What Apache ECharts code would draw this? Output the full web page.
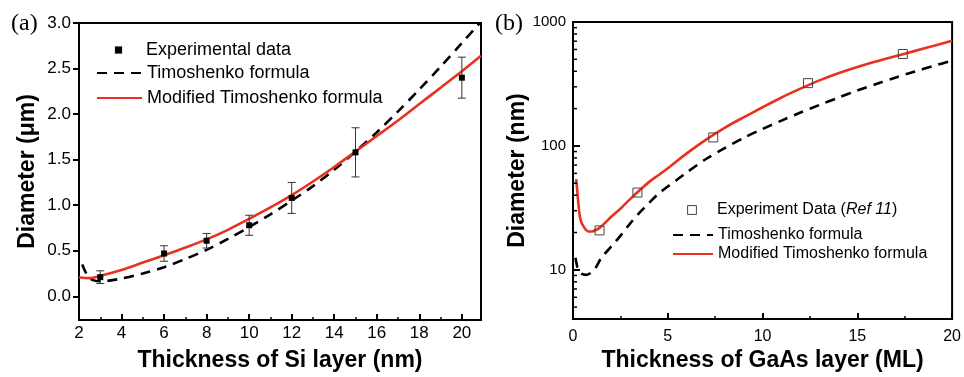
<!DOCTYPE html>
<html><head><meta charset="utf-8">
<script src="https://cdn.jsdelivr.net/npm/echarts@6/dist/echarts.min.js"></script>
<style>html,body{margin:0;padding:0;background:#fff}#c{width:964px;height:377px}</style>
</head><body><div id="c"></div>
<script>
const FONT = '"Liberation Sans", Arial, Helvetica, sans-serif';
const SERIF = '"Liberation Serif", "Times New Roman", serif';
const RED = '#e8321f';

// ---------- Panel (a): Si layer ----------
const expXA   = [3, 6, 8, 10, 12, 15, 20];
const expYA   = [0.21, 0.47, 0.61, 0.78, 1.08, 1.58, 2.40];
const expErrA = [0.07, 0.085, 0.08, 0.11, 0.17, 0.27, 0.225];

const timXA = [2.15, 2.3, 2.45, 2.7, 3, 3.5, 4, 5, 6, 7, 8, 9, 10, 11, 12, 13, 14, 15, 16, 17, 18, 19, 20, 20.85];
const timYA = [0.35, 0.27, 0.21, 0.175, 0.165, 0.175, 0.195, 0.25, 0.32, 0.41, 0.51, 0.63, 0.76, 0.90, 1.05, 1.21, 1.39, 1.59, 1.80, 2.03, 2.27, 2.52, 2.78, 3.00];

const modXA = [2, 2.5, 3, 4, 5, 6, 7, 8, 9, 10, 11, 12, 13, 14, 15, 16, 17, 18, 19, 20, 20.9];
const modYA = [0.21, 0.20, 0.225, 0.29, 0.37, 0.45, 0.535, 0.625, 0.73, 0.85, 0.975, 1.11, 1.26, 1.42, 1.59, 1.76, 1.93, 2.11, 2.29, 2.47, 2.64];

const xTicksA      = [2, 4, 6, 8, 10, 12, 14, 16, 18, 20];
const xMinorTicksA = [3, 5, 7, 9, 11, 13, 15, 17, 19];
const yTicksA      = [0, 0.5, 1.0, 1.5, 2.0, 2.5, 3.0];

// ---------- Panel (b): GaAs layer ----------
const expXB = [1.4, 3.4, 7.4, 12.4, 17.4];
const expYB = [20.8, 42, 117, 321, 552];

const timXB = [0.13, 0.2, 0.28, 0.45, 0.7, 1.0, 1.2, 1.5, 2, 2.5, 3, 3.5, 4, 4.5, 5, 5.5, 6, 7, 8, 9, 10, 11, 12, 13, 14, 15, 16, 17, 18, 19, 20];
const timYB = [12.5, 11, 10, 9.3, 9.1, 9.6, 10.4, 12.5, 15.3, 18.8, 23.5, 28.8, 34.5, 41, 47, 53.5, 61, 78, 96, 116, 137, 160, 186, 214, 245, 280, 316, 355, 397, 441, 488];

const modXB = [0.17, 0.2, 0.27, 0.36, 0.45, 0.54, 0.65, 0.8, 1.0, 1.2, 1.4, 1.7, 2, 2.5, 3, 3.5, 4, 4.5, 5, 6, 7, 8, 9, 10, 11, 12, 13, 14, 15, 16, 17, 18, 19, 20];
const modYB = [54, 48, 36, 27, 24, 22.6, 21.3, 20.4, 20.4, 20.9, 21.8, 24, 26.7, 31.1, 37, 43.6, 51, 58, 66, 87, 112, 140, 170, 205, 246, 290, 338, 386, 434, 481, 530, 582, 640, 705];

const xMinorTicksB = [2.5, 7.5, 12.5, 17.5];
const yMajorTicksB = [10, 100, 1000];
const yMinorTicksB = [5, 6, 7, 8, 9, 20, 30, 40, 50, 60, 70, 80, 90, 200, 300, 400, 500, 600, 700, 800, 900];

const NAME_EXP_A = 'Experimental data';
const NAME_EXP_B = 'Experiment Data (Ref 11)';
const NAME_TIM = 'Timoshenko formula';
const NAME_MOD = 'Modified Timoshenko formula';

const pairs = (xs, ys) => xs.map((x, i) => [x, ys[i]]);

function errRender(params, api) {
  const x = api.value(0), lo = api.value(1), hi = api.value(2);
  const p1 = api.coord([x, lo]), p2 = api.coord([x, hi]);
  const cap = 4, st = {stroke: '#333', lineWidth: 1};
  return {type: 'group', children: [
    {type: 'line', shape: {x1: p1[0], y1: p1[1], x2: p2[0], y2: p2[1]}, style: st},
    {type: 'line', shape: {x1: p1[0] - cap, y1: p1[1], x2: p1[0] + cap, y2: p1[1]}, style: st},
    {type: 'line', shape: {x1: p2[0] - cap, y1: p2[1], x2: p2[0] + cap, y2: p2[1]}, style: st}
  ]};
}
function minorTickRender(params, api) {
  const p = api.coord([api.value(0), api.value(1)]);
  return {type: 'line', shape: {x1: p[0], y1: p[1], x2: p[0] + 4, y2: p[1]}, style: {stroke: '#000', lineWidth: 1.5}};
}

const axisLineStyle = {show: true, onZero: false, lineStyle: {color: '#000', width: 2}};
const labelBase = {color: '#000', fontFamily: FONT};
const nameStyle = {color: '#000', fontFamily: FONT, fontSize: 23, fontWeight: 'bold'};
const hiddenSymbol = {opacity: 0, borderWidth: 0};

const option = {
  animation: false,
  backgroundColor: '#fff',
  title: [
    {text: '(a)', left: 11, top: 12, padding: 0, textStyle: {fontFamily: SERIF, fontSize: 24, fontWeight: 'normal', color: '#000'}},
    {text: '(b)', left: 495, top: 12, padding: 0, textStyle: {fontFamily: SERIF, fontSize: 24, fontWeight: 'normal', color: '#000'}}
  ],
  grid: [
    {left: 79, top: 23, width: 402, height: 300, show: true, borderColor: '#000', borderWidth: 2},
    {left: 573, top: 22, width: 385, height: 305, show: true, borderColor: '#000', borderWidth: 2}
  ],
  legend: [
    {left: 96, top: 41, orient: 'vertical', padding: 0, itemWidth: 45, itemHeight: 9,
     selectedMode: false, data: [NAME_EXP_A],
     textStyle: {fontFamily: FONT, fontSize: 18, color: '#000'}},
    {left: 96, top: 64, orient: 'vertical', padding: 0, itemWidth: 45, itemHeight: 9, itemGap: 7,
     selectedMode: false, data: [NAME_TIM, NAME_MOD], itemStyle: hiddenSymbol,
     textStyle: {fontFamily: FONT, fontSize: 18, color: '#000'}},
    {left: 672, top: 202, orient: 'vertical', padding: 0, itemWidth: 40, itemHeight: 11,
     selectedMode: false, data: [NAME_EXP_B], itemStyle: {borderWidth: 1},
     formatter: () => '{n|Experiment Data (}{i|Ref 11}{n|)}',
     textStyle: {fontFamily: FONT, fontSize: 16, color: '#000',
       rich: {n: {fontFamily: FONT, fontSize: 16, color: '#000'}, i: {fontFamily: FONT, fontSize: 16, color: '#000', fontStyle: 'italic'}}}},
    {left: 672, top: 227, orient: 'vertical', padding: 0, itemWidth: 40, itemHeight: 9, itemGap: 3,
     selectedMode: false, data: [NAME_TIM, NAME_MOD], itemStyle: hiddenSymbol,
     textStyle: {fontFamily: FONT, fontSize: 16, color: '#000'}}
  ],
  xAxis: [
    {gridIndex: 0, type: 'value', position: 'bottom', min: 2, max: 20.9, interval: 2,
     axisLine: axisLineStyle,
     axisTick: {show: true, inside: true, length: 6, customValues: xTicksA, lineStyle: {color: '#000', width: 2}},
     axisLabel: Object.assign({fontSize: 17, margin: 5, customValues: xTicksA}, labelBase),
     splitLine: {show: false},
     name: 'Thickness of Si layer (nm)', nameLocation: 'middle', nameGap: 29, nameTextStyle: nameStyle},
    {gridIndex: 0, type: 'value', position: 'bottom', min: 2, max: 20.9, interval: 2,
     axisLine: {show: false, onZero: false}, axisLabel: {show: false}, splitLine: {show: false},
     axisTick: {show: true, inside: true, length: 3, customValues: xMinorTicksA, lineStyle: {color: '#000', width: 1.5}}},
    {gridIndex: 1, type: 'value', position: 'bottom', min: 0, max: 20, interval: 5,
     axisLine: axisLineStyle,
     axisTick: {show: true, inside: true, length: 6, lineStyle: {color: '#000', width: 2}},
     axisLabel: Object.assign({fontSize: 16, margin: 9}, labelBase),
     splitLine: {show: false},
     name: 'Thickness of GaAs layer (ML)', nameLocation: 'middle', nameGap: 25, nameTextStyle: nameStyle},
    {gridIndex: 1, type: 'value', position: 'bottom', min: 0, max: 20, interval: 5,
     axisLine: {show: false, onZero: false}, axisLabel: {show: false}, splitLine: {show: false},
     axisTick: {show: true, inside: true, length: 3, customValues: xMinorTicksB, lineStyle: {color: '#000', width: 1.5}}}
  ],
  yAxis: [
    {gridIndex: 0, type: 'value', position: 'left', min: -0.26, max: 3.0,
     axisLine: axisLineStyle,
     axisTick: {show: true, inside: false, length: 6, customValues: yTicksA, lineStyle: {color: '#000', width: 2}},
     axisLabel: Object.assign({fontSize: 17, margin: 8, customValues: yTicksA, formatter: v => Number(v).toFixed(1)}, labelBase),
     splitLine: {show: false},
     name: 'Diameter (μm)', nameLocation: 'middle', nameGap: 40, nameTextStyle: nameStyle},
    {gridIndex: 1, type: 'log', position: 'left', logBase: 10, min: 4, max: 1000,
     axisLine: axisLineStyle,
     axisTick: {show: true, inside: true, length: 7, lineStyle: {color: '#000', width: 2}},
     axisLabel: Object.assign({fontSize: 15, margin: 7,
       formatter: v => (yMajorTicksB.indexOf(Math.round(v)) >= 0 ? String(Math.round(v)) : '')}, labelBase),
     splitLine: {show: false},
     name: 'Diameter (nm)', nameLocation: 'middle', nameGap: 42, nameTextStyle: nameStyle}
  ],
  series: [
    {name: NAME_TIM, type: 'line', xAxisIndex: 0, yAxisIndex: 0, data: pairs(timXA, timYA),
     smooth: 0.3, symbol: 'none', lineStyle: {color: '#000', width: 2.6, type: [10, 7]}, itemStyle: {color: '#000'}, z: 3},
    {name: NAME_MOD, type: 'line', xAxisIndex: 0, yAxisIndex: 0, data: pairs(modXA, modYA),
     smooth: 0.3, symbol: 'none', lineStyle: {color: RED, width: 2.6}, itemStyle: {color: RED}, z: 4},
    {type: 'custom', xAxisIndex: 0, yAxisIndex: 0, renderItem: errRender, silent: true, z: 5,
     encode: {x: 0, y: [1, 2]},
     data: expXA.map((x, i) => [x, expYA[i] - expErrA[i], expYA[i] + expErrA[i]])},
    {name: NAME_EXP_A, type: 'line', xAxisIndex: 0, yAxisIndex: 0, data: pairs(expXA, expYA),
     symbol: 'rect', symbolSize: 6, showSymbol: true, lineStyle: {width: 0}, itemStyle: {color: '#000'}, z: 6},

    {name: NAME_TIM, type: 'line', xAxisIndex: 2, yAxisIndex: 1, data: pairs(timXB, timYB),
     smooth: 0.3, symbol: 'none', lineStyle: {color: '#000', width: 2.6, type: [10, 7]}, itemStyle: {color: '#000'}, z: 3},
    {name: NAME_MOD, type: 'line', xAxisIndex: 2, yAxisIndex: 1, data: pairs(modXB, modYB),
     smooth: 0.3, symbol: 'none', lineStyle: {color: RED, width: 2.6}, itemStyle: {color: RED}, z: 4},
    {name: NAME_EXP_B, type: 'line', xAxisIndex: 2, yAxisIndex: 1, data: pairs(expXB, expYB),
     symbol: 'rect', symbolSize: 9, showSymbol: true, lineStyle: {width: 0},
     itemStyle: {color: 'rgba(255,255,255,0)', borderColor: '#444', borderWidth: 1}, z: 6},
    {type: 'custom', xAxisIndex: 2, yAxisIndex: 1, renderItem: minorTickRender, silent: true, z: 7,
     encode: {x: 0, y: 1}, data: yMinorTicksB.map(v => [0, v])}
  ]
};

const chart = echarts.init(document.getElementById('c'), null, {renderer: 'canvas'});
chart.setOption(option);
</script>
</body></html>
